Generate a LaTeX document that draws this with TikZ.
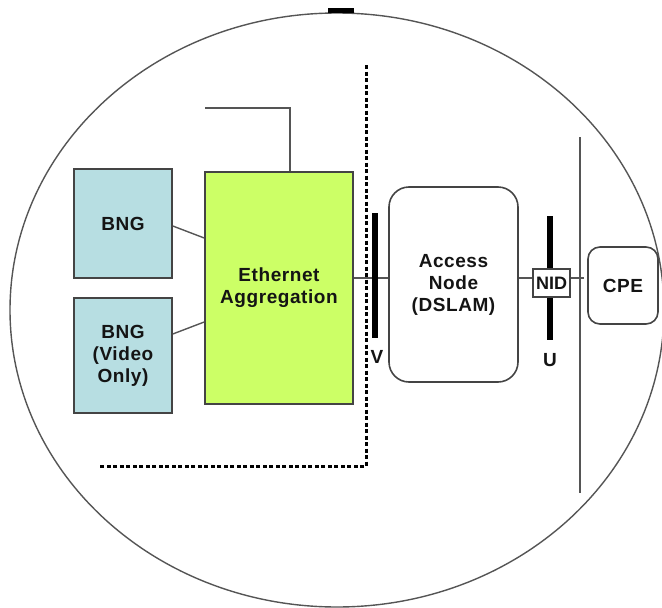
\documentclass[tikz,border=0pt]{standalone}
\usepackage{fontspec}
\setmainfont{Liberation Sans}
\definecolor{bngblue}{RGB}{183,222,226}
\definecolor{aggreen}{RGB}{204,255,102}
\definecolor{wiregray}{RGB}{85,85,85}
\definecolor{inkdark}{RGB}{20,20,20}
\begin{document}
\begin{tikzpicture}[x=1pt,y=-1pt,
  wire/.style={draw=wiregray,line width=1.4pt},
  box/.style={draw=wiregray!80!black,line width=1.6pt,text=inkdark,
    font=\fontsize{19}{22}\selectfont\bfseries\addfontfeatures{LetterSpace=3},
    align=center,inner sep=0pt},
  roundbox/.style={box,rounded corners=#1},
  ifbar/.style={line width=5.5pt,black},
  iflabel/.style={text=inkdark,font=\fontsize{19}{20}\selectfont\bfseries,inner sep=0pt},
  dashline/.style={line width=3pt,black,dash pattern=on 4pt off 2.5pt}]
\useasboundingbox (0,0) rectangle (662,608);

% outer boundary
\draw[draw=wiregray,line width=1.4pt] (337,310) ellipse [x radius=327, y radius=297];
\fill[black] (328,8) rectangle (354,13);

% domain separators
\draw[dashline] (366,65) -- (366,466) -- (98,466);
\draw[draw=wiregray,line width=1.6pt] (580,137) -- (580,493);

% equipment
\node[box,fill=bngblue,minimum width=98pt,minimum height=109pt] (bng) at (123,223.5) {BNG};
\node[box,fill=bngblue,minimum width=98pt,minimum height=115pt] (bngv) at (123,355.5)
  {\baselineskip=21.5pt BNG\\(Video\\Only)};
\node[box,fill=aggreen,minimum width=148pt,minimum height=232pt] (eth) at (279,288)
  {\baselineskip=23pt Ethernet\\Aggregation};
\node[roundbox=20pt,minimum width=129pt,minimum height=195pt] (an) at (453.5,284.5)
  {\baselineskip=24.5pt Access\\Node\\(DSLAM)};
\node[roundbox=12pt,minimum width=70pt,minimum height=77pt] (cpe) at (623,285.5) {CPE};

% reference points on the wires
\coordinate (up) at (290,108);
\coordinate (upend) at (205,108);
\coordinate (w1) at (0,226);
\coordinate (w1e) at (0,238);
\coordinate (w2) at (0,334);
\coordinate (w2e) at (0,322);
\coordinate (line) at (0,278);
\coordinate (tail) at (584,278);

% wires
\draw[wire] (eth.north -| up) -- (up) -- (upend);
\draw[wire] (bng.east |- w1) -- (eth.west |- w1e);
\draw[wire] (bngv.east |- w2) -- (eth.west |- w2e);
\draw[wire] (eth.east |- line) -- (an.west |- line);

% V interface
\draw[ifbar] (375,213) -- (375,338);
\node[iflabel] (vlab) at (377,357) {V};

% U interface and NID
\draw[wire] (an.east |- line) -- (tail);
\draw[ifbar] (550,216) -- (550,340);
\node[box,fill=white,line width=1.4pt,minimum width=37pt,minimum height=28pt,
  font=\fontsize{18}{18}\selectfont\bfseries] (nid) at (551.5,283) {NID};
\node[iflabel] (ulab) at (550,360) {U};
\end{tikzpicture}
\end{document}
